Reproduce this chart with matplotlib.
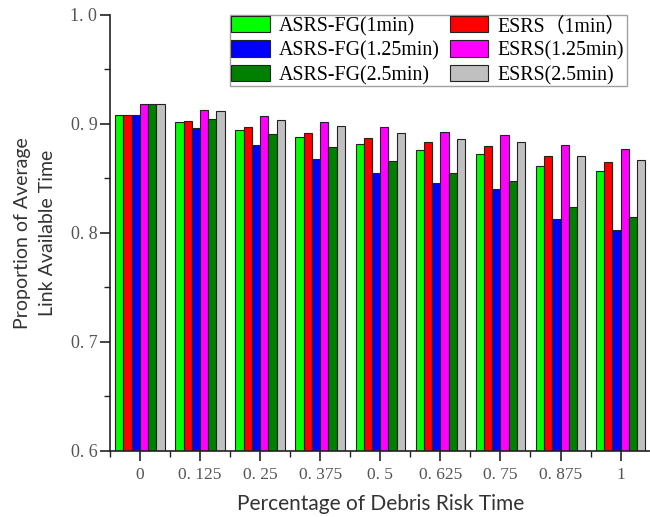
"""Grouped bar chart: link available time vs debris risk time."""

import matplotlib
matplotlib.use("Agg")
import matplotlib.pyplot as plt
import numpy as np
from matplotlib.ticker import MultipleLocator

categories = ["0", "0. 125", "0. 25", "0. 375", "0. 5", "0. 625", "0. 75", "0. 875", "1"]

asrs_1 = [0.908, 0.902, 0.894, 0.888, 0.882, 0.876, 0.872, 0.861, 0.857]
esrs_1 = [0.908, 0.903, 0.897, 0.892, 0.887, 0.883, 0.880, 0.871, 0.865]
asrs_125 = [0.908, 0.896, 0.881, 0.868, 0.855, 0.846, 0.840, 0.813, 0.803]
esrs_125 = [0.918, 0.913, 0.907, 0.902, 0.897, 0.893, 0.890, 0.881, 0.877]
asrs_25 = [0.918, 0.905, 0.891, 0.879, 0.866, 0.855, 0.848, 0.824, 0.815]
esrs_25 = [0.918, 0.912, 0.904, 0.898, 0.892, 0.886, 0.883, 0.871, 0.867]

# drawing order inside each group
SERIES = [
    ("ASRS-FG(1min)", asrs_1, "#00ff00"),
    ("ESRS（1min）", esrs_1, "#ff0000"),
    ("ASRS-FG(1.25min)", asrs_125, "#0000ff"),
    ("ESRS(1.25min)", esrs_125, "#ff00ff"),
    ("ASRS-FG(2.5min)", asrs_25, "#008000"),
    ("ESRS(2.5min)", esrs_25, "#c0c0c0"),
]
# legend order (column-wise fill)
LEGEND_ORDER = [0, 2, 4, 1, 3, 5]

SERIF = ["Liberation Serif", "Noto Sans CJK SC"]
SANS = "Lato"

fig = plt.figure(figsize=(6.5, 5.17), dpi=100)
ax = fig.add_axes([0.169, 0.128, 0.832, 0.843])

x = np.arange(len(categories))
width = 0.137
bars = []
for i, (label, vals, color) in enumerate(SERIES):
    offs = (i - 2.5) * width
    b = ax.bar(x + offs, vals, width, color=color, edgecolor="#222222",
               linewidth=0.8, label=label, zorder=2)
    bars.append(b)

ax.set_xlim(-0.5, len(categories) - 0.5)
ax.set_ylim(0.6, 1.0)
ax.set_xticks(x)
ax.set_xticklabels(categories, family=SERIF, fontsize=12.5, color="#555555")
ax.xaxis.set_minor_locator(MultipleLocator(1, offset=0.5))
ax.yaxis.set_minor_locator(MultipleLocator(0.05))
ax.set_yticks([0.6, 0.7, 0.8, 0.9, 1.0])
ax.set_yticklabels(["0. 6", "0. 7", "0. 8", "0. 9", "1. 0"], family=SERIF,
                   fontsize=13, color="#555555")
ax.tick_params(which="major", direction="out", length=7, width=1.2, color="#222222")
ax.tick_params(which="minor", direction="out", length=4, width=1.0, color="#222222")
ax.tick_params(axis="x", pad=5)
ax.tick_params(axis="y", pad=2)

for side in ("top", "right"):
    ax.spines[side].set_visible(False)
for side in ("left", "bottom"):
    ax.spines[side].set_linewidth(1.2)
    ax.spines[side].set_color("#222222")

ax.set_xlabel("Percentage of Debris Risk Time", family=SANS, fontsize=15,
              color="#333333")
ax.xaxis.set_label_coords(0.5, -0.098)
ax.set_ylabel("Proportion of Average\nLink Available Time", family=SANS,
              fontsize=14, color="#333333", linespacing=1.6)
ax.yaxis.set_label_coords(-0.099, 0.5)

handles = [bars[i] for i in LEGEND_ORDER]
labels = [SERIES[i][0] for i in LEGEND_ORDER]
leg = ax.legend(handles, labels, ncol=2, loc="upper right",
                bbox_to_anchor=(0.9556, 1.0), prop={"family": SERIF, "size": 14.3},
                frameon=True, fancybox=False, edgecolor="#888888",
                handlelength=1.95, handleheight=0.9, handletextpad=0.45,
                columnspacing=0.5, labelspacing=0.22, borderpad=0.05,
                borderaxespad=0.0)
leg.get_frame().set_linewidth(1.0)

fig.savefig("out.png", dpi=100)
